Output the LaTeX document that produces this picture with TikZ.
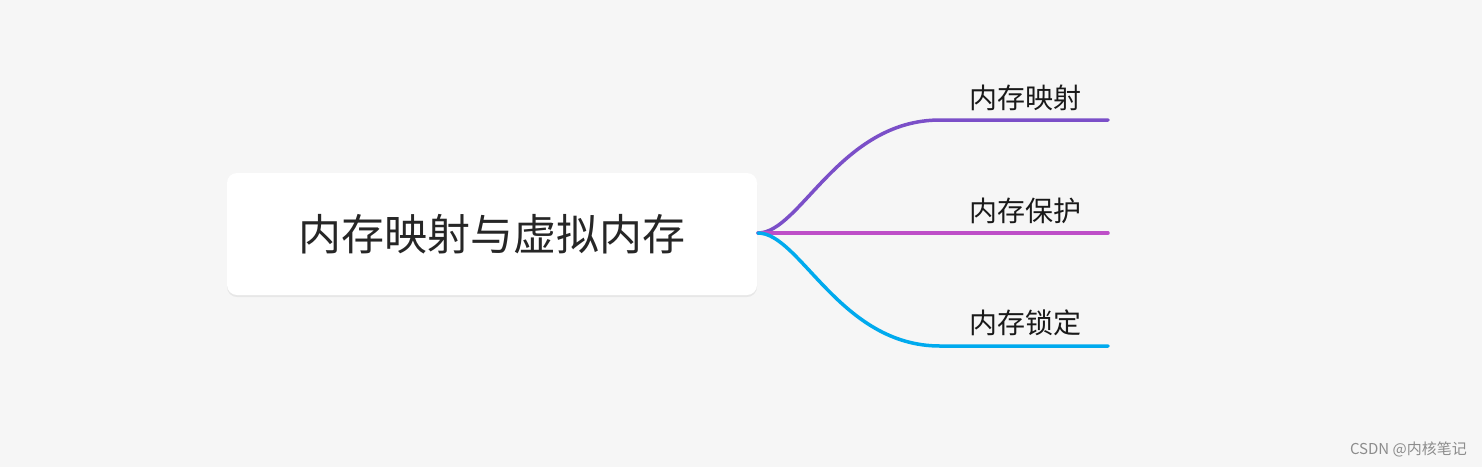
\documentclass[tikz,border=0pt]{standalone}
\usepackage{fontspec}
\setmainfont{Noto Sans CJK SC}
\usetikzlibrary{shadows}
\definecolor{bg}{HTML}{F6F6F6}
\definecolor{cpurple}{HTML}{7B4FC8}
\definecolor{cmag}{HTML}{BE4FC8}
\definecolor{cblue}{HTML}{00AAEE}
\tikzset{br/.style={line width=3.5pt,line cap=round},
lab/.style={font=\fontsize{28}{30}\selectfont,text=black!90,inner sep=0pt}}
\begin{document}
\begin{tikzpicture}[x=1pt,y=-1pt]
\fill[bg] (0,0) rectangle (1482,467);
\useasboundingbox (0,0) rectangle (1482,467);
\node[fill=white,rounded corners=10pt,minimum width=530pt,minimum height=122pt,drop shadow={shadow xshift=0pt,shadow yshift=-2pt,opacity=0.12},font=\fontsize{43}{46}\selectfont,text=black!85] (root) at (492,234) {内存映射与虚拟内存};
\coordinate (s) at (758,233);
\coordinate (t1) at (1108,120);
\coordinate (t2) at (1108,233);
\coordinate (t3) at (1108,346);
\draw[br,cpurple] (s) .. controls (800,233) and (840,120) .. (940,120) -- (t1);
\draw[br,cmag] (s) .. controls (850,233) .. (t2);
\draw[br,cblue] (s) .. controls (800,233) and (840,346) .. (940,346) -- (t3);
\node[lab] (l1) at (1025,98) {内存映射};
\node[lab] (l2) at (1025,211) {内存保护};
\node[lab] (l3) at (1025,323) {内存锁定};
\node[font=\fontsize{15}{16}\selectfont,text=black!45,anchor=east,inner sep=0pt] (wm) at (1467,449) {CSDN @内核笔记};
\end{tikzpicture}
\end{document}
